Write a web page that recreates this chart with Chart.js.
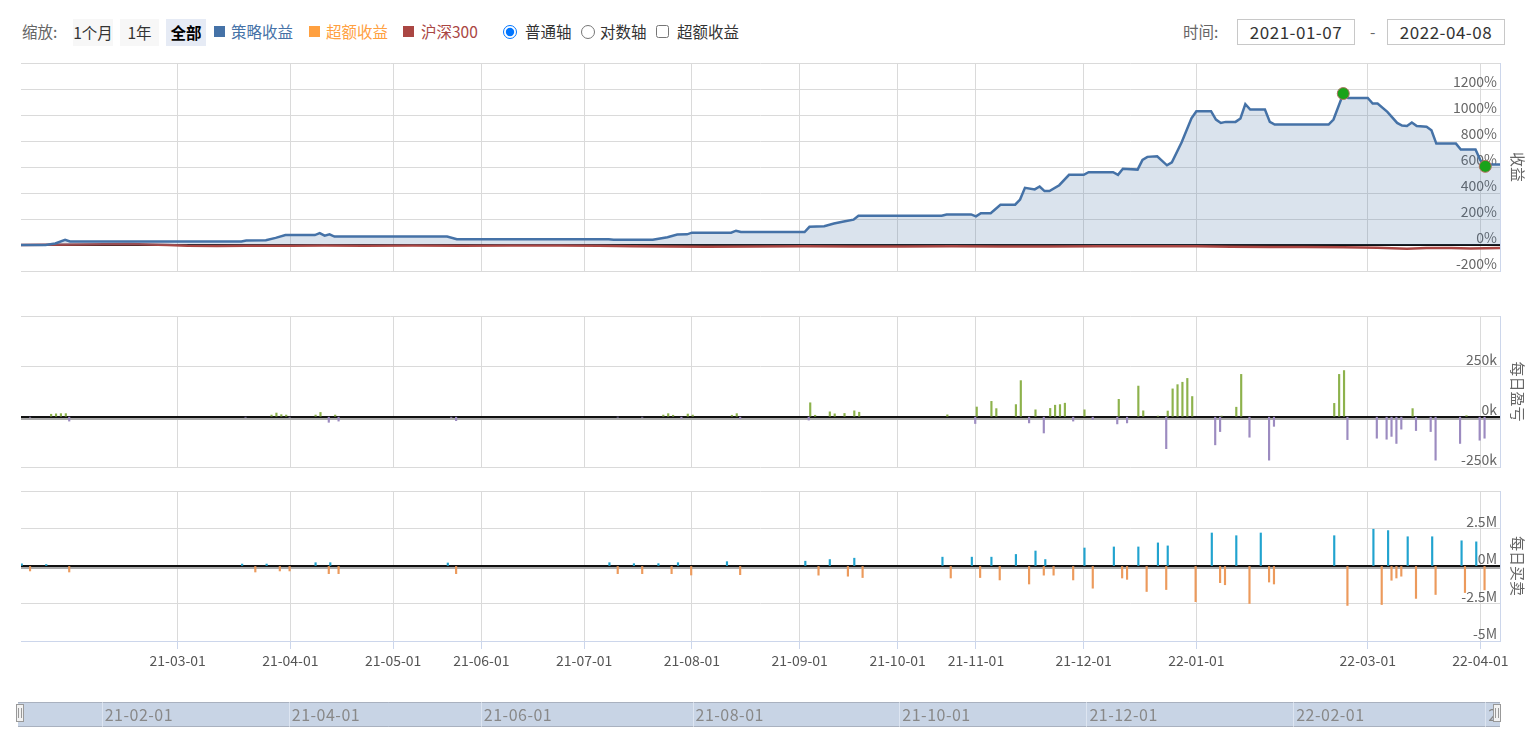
<!DOCTYPE html>
<html><head><meta charset="utf-8">
<script src="https://cdn.jsdelivr.net/npm/chart.js@4.4.1/dist/chart.umd.min.js"></script>
<style>
body{margin:0;background:#fff;font-family:"Noto Sans CJK SC","Noto Sans",sans-serif;}
#wrap{position:relative;width:1533px;height:742px;overflow:hidden;background:#fff;}
canvas{position:absolute;left:0;}
.t{position:absolute;white-space:nowrap;font-size:15.5px;line-height:27px;top:18px;}
.btn{position:absolute;top:19px;height:27px;line-height:27px;text-align:center;font-size:15.5px;color:#333;background:#f7f7f7;}
.sq{position:absolute;top:26px;width:11px;height:11px;}
.box{position:absolute;top:19px;width:116px;height:24px;border:1px solid #c8c8c8;text-align:center;line-height:24px;font-size:17px;letter-spacing:0.5px;color:#333;}
input{position:absolute;margin:0;}
</style></head>
<body>
<div id="wrap">
  <div class="t" style="left:22px;color:#666">缩放:</div>
  <div class="btn" style="left:73px;width:40px">1个月</div>
  <div class="btn" style="left:120px;width:39px">1年</div>
  <div class="btn" style="left:166px;width:40px;background:#e6ebf5;font-weight:bold;color:#000">全部</div>
  <div class="sq" style="left:214px;background:#4572a7"></div>
  <div class="t" style="left:231px;color:#4572a7">策略收益</div>
  <div class="sq" style="left:309px;background:#ffa040"></div>
  <div class="t" style="left:326px;color:#ffa040">超额收益</div>
  <div class="sq" style="left:403px;background:#aa4643"></div>
  <div class="t" style="left:421px;color:#aa4643">沪深300</div>
  <input type="radio" name="ax" checked style="left:503px;top:25px;width:14px;height:14px">
  <div class="t" style="left:525px;color:#333">普通轴</div>
  <input type="radio" name="ax" style="left:581px;top:25px;width:14px;height:14px">
  <div class="t" style="left:600px;color:#333">对数轴</div>
  <input type="checkbox" style="left:656px;top:25px;width:13px;height:13px">
  <div class="t" style="left:677px;color:#333">超额收益</div>
  <div class="t" style="left:1183px;color:#666">时间:</div>
  <div class="box" style="left:1237px">2021-01-07</div>
  <div class="t" style="left:1370px;color:#666">-</div>
  <div class="box" style="left:1387px">2022-04-08</div>
  <canvas id="c1" width="1533" height="230" style="top:55px"></canvas>
  <canvas id="c2" width="1533" height="170" style="top:305px"></canvas>
  <canvas id="c3" width="1533" height="190" style="top:482px"></canvas>
  <canvas id="c4" width="1533" height="50" style="top:690px"></canvas>
</div>
<script>
const FONT = '"Noto Sans CJK SC","Noto Sans",sans-serif';

// x positions are trading-day indices (ordinal axis, 2021-01-07 = 0)
const monthTickDays   = [32,55,76,94,115,137,159,179,195,217,240,275,298];
const monthTickLabels = ['21-03-01','21-04-01','21-05-01','21-06-01','21-07-01','21-08-01','21-09-01','21-10-01','21-11-01','21-12-01','22-01-01','22-03-01','22-04-01'];
const navTickDays   = [17,55,94,137,179,217,259,298];
const navTickLabels = ['21-02-01','21-04-01','21-06-01','21-08-01','21-10-01','21-12-01','22-02-01','22-04-01'];

// 策略收益 (%)
const stratDay = [0,5,7,9,10,45,46,50,52,54,60,61,62,63,64,87,89,120,121,129,132,134,136,137,145,146,147,160,161,164,166,168,170,171,188,189,194,195,196,198,200,203,204,205,207,208,209,210,212,214,217,218,223,224,225,228,229,230,232,234,235,237,239,240,243,244,245,246,248,249,250,251,254,255,256,267,268,270,271,275,276,277,279,281,282,283,284,285,287,288,289,293,294,297,298,299,300,302];
const stratRet = [0,0,12,40,27,27,35,36,55,76,76,91,72,82,65,65,45,45,40,40,60,80,82,95,95,110,100,100,140,145,165,180,195,225,225,235,235,220,245,245,310,310,350,440,428,450,415,415,460,540,540,560,560,540,587,580,655,678,682,613,636,790,975,1029,1029,965,939,947,947,973,1083,1042,1042,947,926,926,965,1165,1131,1131,1088,1088,1024,939,919,915,942,915,910,882,780,780,734,734,651,605,620,620];
// 沪深300 (%)
const hs300Day = [0,5,12,17,22,26,30,34,40,46,55,62,70,80,90,100,110,118,125,132,140,150,160,170,180,190,200,210,220,230,240,247,255,262,270,277,283,287,292,296,302];
const hs300Ret = [0,2,4,6,7,4,0,-6,-8,-6,-5,-3,-5,-4,-5,-4,-3,-5,-9,-12,-13,-11,-10,-12,-11,-10,-12,-11,-10,-9,-10,-14,-15,-16,-17,-22,-28,-24,-23,-26,-24];
// 最高点 / 回撤点
const markerDay = [270,299];
const markerRet = [1165,605];

// 每日盈亏 (k)
const profitDay = [6,7,8,9,51,52,53,54,60,61,64,131,132,133,136,137,145,146,161,162,165,166,168,170,171,189,195,198,199,203,204,207,210,211,212,213,217,224,228,229,232,234,235,236,237,238,239,245,248,249,268,269,270,284,295];
const profitVal = [12,14,15,15,8,18,10,8,8,21,8,8,15,7,13,8,7,15,69,7,24,14,16,29,22,9,48,76,40,60,179,34,41,57,60,67,34,86,152,29,3,28,138,159,171,190,100,3,47,210,66,210,229,40,5];
const lossDay = [2,10,46,55,63,65,88,89,122,127,135,147,161,195,206,209,215,219,224,226,234,244,245,251,255,256,271,277,279,280,281,282,285,288,289,294,298,299];
const lossVal = [-3,-22,-3,-3,-28,-22,-4,-20,-2,-3,-8,-10,-17,-34,-31,-81,-22,-14,-36,-31,-159,-140,-74,-102,-216,-48,-114,-107,-112,-98,-133,-62,-69,-74,-216,-133,-117,-107];

// 每日买卖 (M)
const buyDay = [0,5,45,50,60,63,87,120,125,130,134,144,160,165,170,188,194,198,203,207,209,217,223,228,232,234,243,248,253,268,276,279,283,288,294,297];
const buyVal = [0.15,0.1,0.13,0.13,0.22,0.22,0.2,0.22,0.155,0.155,0.22,0.29,0.32,0.43,0.52,0.59,0.59,0.59,0.77,1.0,0.43,1.2,1.27,1.27,1.54,1.34,2.2,2.02,2.2,2.02,2.45,2.36,1.95,1.95,1.68,1.61];
const sellDay = [2,10,48,53,55,63,65,89,122,127,133,137,147,163,169,172,190,196,200,206,209,211,215,219,225,226,230,234,240,245,246,251,255,256,271,278,280,281,282,285,289,295,299];
const sellVal = [-0.33,-0.4,-0.4,-0.33,-0.33,-0.51,-0.51,-0.51,-0.51,-0.51,-0.51,-0.6,-0.58,-0.61,-0.68,-0.77,-0.8,-0.77,-0.93,-1.2,-0.61,-0.61,-0.93,-1.48,-0.8,-0.89,-1.7,-1.57,-2.38,-1.11,-1.25,-2.5,-1.07,-1.2,-2.63,-2.57,-0.95,-0.8,-0.68,-2.16,-1.9,-1.77,-1.59];

const pts = (d, v) => d.map((x, i) => ({x, y: v[i]}));
const GRID = '#dadada';
const AXIS = '#ccd6eb';

function xScale(showLabels) {
  return {
    type: 'linear', min: 0, max: 302, offset: false,
    afterBuildTicks: s => { s.ticks = monthTickDays.map(v => ({value: v})); },
    grid: {color: GRID, drawTicks: showLabels, tickLength: 8, tickColor: AXIS, offset: false},
    border: {display: showLabels, color: AXIS},
    ticks: {display: showLabels, autoSkip: false, maxRotation: 0, padding: 3, color: '#555',
      font: {size: 14, family: FONT},
      callback: v => { const i = monthTickDays.indexOf(v); return i >= 0 ? monthTickLabels[i] : ''; }},
    afterFit: s => { s.height = showLabels ? 30 : 0; }
  };
}
function yScale(min, max, step, fmt, title) {
  return {
    position: 'right', min, max,
    ticks: {stepSize: step, mirror: true, padding: -3, labelOffset: -7, color: '#666',
      font: {size: 14, family: FONT},
      callback: v => v === max ? '' : fmt(v)},
    grid: {color: GRID, drawTicks: false},
    border: {display: true, color: AXIS},
    title: {display: true, text: title, color: '#666', font: {size: 15, family: FONT}, padding: {top: 6, bottom: 0}},
    afterFit: s => { s.width = 33; }
  };
}
const zeroLine = {
  id: 'zeroLine',
  beforeDatasetsDraw(chart, args, opts) {
    const y = Math.round(chart.scales.y.getPixelForValue(0));
    const {left, right} = chart.chartArea;
    const ctx = chart.ctx;
    ctx.save();
    if (opts.grey) { ctx.fillStyle = '#aaaaaa'; ctx.fillRect(left, y + 1, right - left, 2); }
    ctx.fillStyle = '#111'; ctx.fillRect(left, y - 1, right - left, 2);
    ctx.restore();
  }
};
const common = {
  responsive: false, animation: false, events: [],
  plugins: {legend: {display: false}, tooltip: {enabled: false}}
};

new Chart(document.getElementById('c1'), {
  type: 'line',
  data: {datasets: [
    {data: pts(markerDay, markerRet), showLine: false, pointRadius: 6, pointBackgroundColor: '#1aa31a',
     pointBorderColor: '#b07060', pointBorderWidth: 1, clip: false},
    {data: pts(stratDay, stratRet), borderColor: '#4572a7', borderWidth: 2.5, pointRadius: 0,
     fill: 'origin', backgroundColor: 'rgba(69,114,167,0.2)', tension: 0},
    {data: pts(hs300Day, hs300Ret), borderColor: '#aa4643', borderWidth: 2.5, pointRadius: 0, fill: false, tension: 0}
  ]},
  options: {...common,
    layout: {padding: {left: 21, right: 0, top: 8, bottom: 14}},
    plugins: {...common.plugins, zeroLine: {grey: false}},
    scales: {x: xScale(false), y: yScale(-200, 1400, 200, v => v + '%', '收益')}
  },
  plugins: [zeroLine]
});

const barOpts = {barThickness: 1.5, borderWidth: 0, grouped: true};
new Chart(document.getElementById('c2'), {
  type: 'bar',
  data: {datasets: [
    {...barOpts, data: pts(lossDay, lossVal), backgroundColor: '#9c8bc0'},
    {...barOpts, data: pts(profitDay, profitVal), backgroundColor: '#8db24c'}
  ]},
  options: {...common,
    layout: {padding: {left: 21, right: 0, top: 11, bottom: 8}},
    plugins: {...common.plugins, zeroLine: {grey: true}},
    scales: {x: xScale(false), y: yScale(-250, 500, 250, v => v + 'k', '每日盈亏')}
  },
  plugins: [zeroLine]
});

new Chart(document.getElementById('c3'), {
  type: 'bar',
  data: {datasets: [
    {...barOpts, data: pts(sellDay, sellVal), backgroundColor: '#ec9a5c'},
    {...barOpts, data: pts(buyDay, buyVal), backgroundColor: '#21a3cf'}
  ]},
  options: {...common,
    layout: {padding: {left: 21, right: 0, top: 9, bottom: 1}},
    plugins: {...common.plugins, zeroLine: {grey: true}},
    scales: {x: xScale(true), y: yScale(-5, 5, 2.5, v => v + 'M', '每日买卖')}
  },
  plugins: [zeroLine]
});

// navigator
const navPlugin = {
  id: 'nav',
  afterDraw(chart) {
    const ctx = chart.ctx, a = chart.chartArea, xs = chart.scales.x;
    ctx.save();
    ctx.fillStyle = '#c8d4e5';
    ctx.fillRect(a.left, a.top, a.right - a.left, a.bottom - a.top);
    ctx.strokeStyle = '#a9b1bf'; ctx.lineWidth = 1;
    ctx.beginPath();
    ctx.moveTo(a.left, a.top + 0.5); ctx.lineTo(a.right, a.top + 0.5);
    ctx.moveTo(a.left, a.bottom - 0.5); ctx.lineTo(a.right, a.bottom - 0.5);
    ctx.stroke();
    ctx.beginPath(); ctx.rect(a.left, a.top, a.right - a.left, a.bottom - a.top); ctx.clip();
    ctx.strokeStyle = 'rgba(235,240,248,0.6)';
    navTickDays.forEach(d => {
      const x = Math.round(xs.getPixelForValue(d)) + 0.5;
      ctx.beginPath(); ctx.moveTo(x, a.top); ctx.lineTo(x, a.bottom); ctx.stroke();
    });
    ctx.fillStyle = '#888'; ctx.font = '16px ' + FONT; ctx.textBaseline = 'middle'; ctx.textAlign = 'left';
    if ('letterSpacing' in ctx) ctx.letterSpacing = '0.5px';
    navTickDays.forEach((d, i) => ctx.fillText(navTickLabels[i], xs.getPixelForValue(d) + 3, (a.top + a.bottom) / 2));
    ctx.restore();
    [a.left + 2, a.right - 3].forEach(cx => {
      ctx.save();
      ctx.fillStyle = '#f2f2f2'; ctx.strokeStyle = '#999';
      ctx.fillRect(cx - 4, a.top + 2, 8, 18); ctx.strokeRect(cx - 3.5, a.top + 2.5, 7, 17);
      ctx.beginPath(); ctx.moveTo(cx - 1.5, a.top + 6); ctx.lineTo(cx - 1.5, a.top + 16);
      ctx.moveTo(cx + 1.5, a.top + 6); ctx.lineTo(cx + 1.5, a.top + 16); ctx.stroke();
      ctx.restore();
    });
  }
};
new Chart(document.getElementById('c4'), {
  type: 'line',
  data: {datasets: []},
  options: {...common,
    layout: {padding: {left: 18, right: 33, top: 12, bottom: 13}},
    scales: {x: {type: 'linear', min: 0, max: 301, display: false}, y: {display: false, min: 0, max: 1}}
  },
  plugins: [navPlugin]
});
</script>
</body></html>
